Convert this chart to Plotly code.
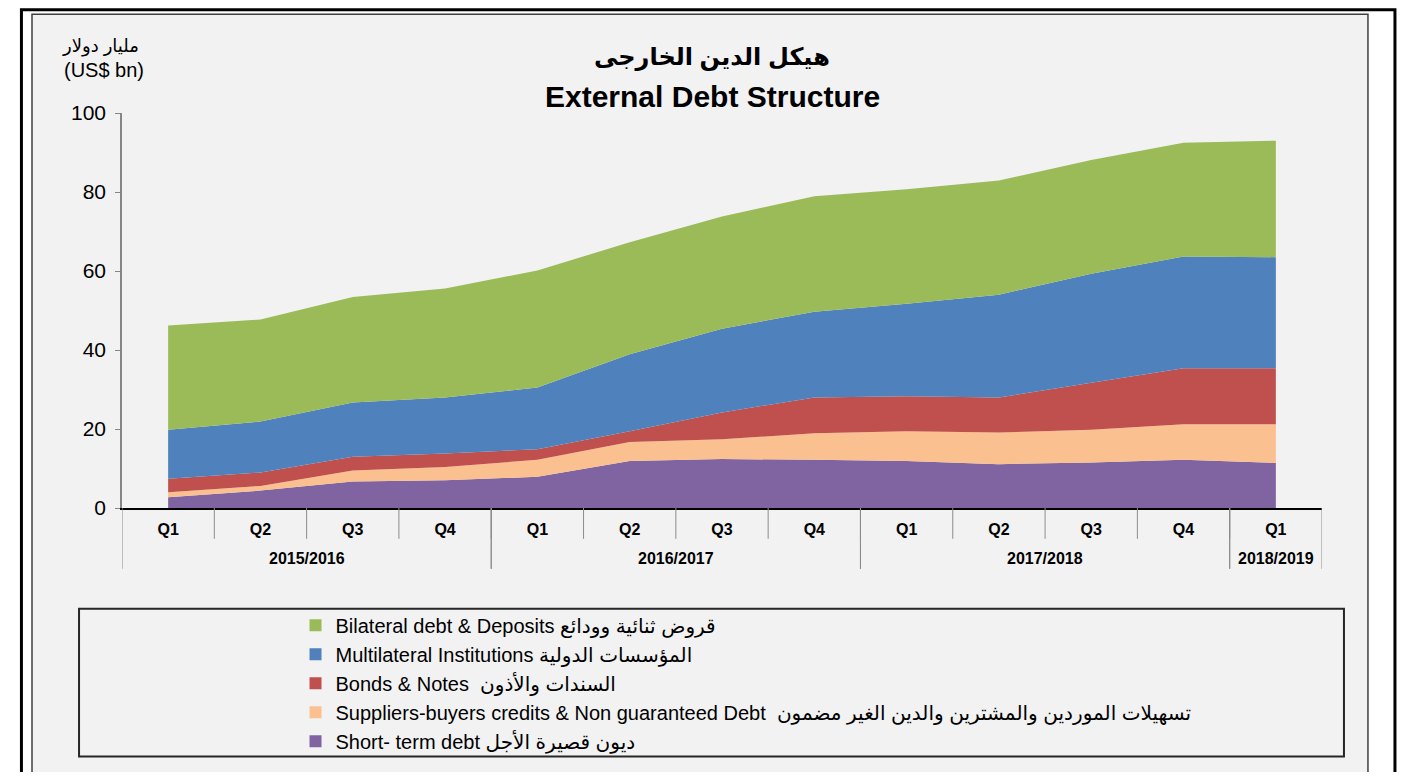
import plotly.graph_objects as go

# Fiscal years / quarters
years = ['2015/2016'] * 4 + ['2016/2017'] * 4 + ['2017/2018'] * 4 + ['2018/2019']
quarters = ['Q1', 'Q2', 'Q3', 'Q4'] * 3 + ['Q1']

# US$ bn
short_term = [2.7, 4.4, 6.7, 7.0, 7.9, 11.9, 12.4, 12.2, 11.9, 11.1, 11.5, 12.2, 11.4]
suppliers = [1.3, 1.2, 2.8, 3.4, 4.3, 4.8, 5.0, 6.7, 7.5, 8.0, 8.3, 9.0, 9.8]
bonds = [3.4, 3.4, 3.5, 3.4, 2.7, 2.7, 6.8, 9.1, 8.9, 8.9, 11.9, 14.2, 14.2]
multilateral = [12.4, 12.9, 13.7, 14.2, 15.6, 19.5, 21.2, 21.7, 23.4, 26.0, 27.6, 28.3, 28.1]
bilateral = [26.4, 25.8, 26.7, 27.6, 29.6, 28.4, 28.4, 29.2, 29.0, 28.9, 28.8, 28.8, 29.5]

series_names = [
    'Short- term debt ديون قصيرة الأجل',
    'Suppliers-buyers credits & Non guaranteed Debt  تسهيلات الموردين والمشترين والدين الغير مضمون',
    'Bonds & Notes  السندات والأذون',
    'Multilateral Institutions المؤسسات الدولية',
    'Bilateral debt & Deposits قروض ثنائية وودائع',
]
series_values = [short_term, suppliers, bonds, multilateral, bilateral]
colors = ['#8064A2', '#FAC090', '#C0504D', '#4F81BD', '#9BBB59']

FONT = 'Liberation Sans, Arial, DejaVu Sans, sans-serif'

n = len(quarters)
x_idx = list(range(n))

fig = go.Figure()

# stacked areas, bottom to top
for name, vals, color in zip(series_names, series_values, colors):
    fig.add_trace(go.Scatter(
        x=x_idx,
        y=vals,
        mode='none',
        stackgroup='one',
        fillcolor=color,
        name=name,
        showlegend=False,
        hoverinfo='skip'
    ))

# legend entries with square swatches, top series first
for name, color in zip(series_names[::-1], colors[::-1]):
    fig.add_trace(go.Scatter(
        x=x_idx,
        y=[None] * n,
        mode='markers',
        marker=dict(symbol='square', size=12, color=color),
        name=name,
        legendgroup=name
    ))

shapes = [
    # outer black frame
    dict(type='rect', xref='paper', yref='paper', x0=-0.0838, x1=1.0608, y0=-0.72, y1=1.2614,
         line=dict(color='black', width=3), fillcolor='white', layer='below'),
    # grey chart area
    dict(type='rect', xref='paper', yref='paper', x0=-0.075, x1=1.0383, y0=-0.71, y1=1.25,
         line=dict(color='#404040', width=1.5), fillcolor='#f2f2f2', layer='below'),
    # legend box
    dict(type='rect', xref='paper', yref='paper', x0=-0.0358, x1=1.0183, y0=-0.629, y1=-0.255,
         line=dict(color='#262626', width=2), fillcolor='rgba(0,0,0,0)', layer='below'),
]

# quarter separators below the axis
for k in range(n - 1):
    shapes.append(dict(type='line', xref='x', yref='paper', x0=k + 0.5, x1=k + 0.5,
                       y0=0, y1=-0.078, line=dict(color='#8c8c8c', width=1)))

# fiscal-year groups: long dividers and centred labels
annotations = []
groups = []
for i, yr in enumerate(years):
    if not groups or groups[-1][0] != yr:
        groups.append([yr, i, i])
    else:
        groups[-1][2] = i
for yr, first, last in groups:
    for edge in (first - 0.5, last + 0.5):
        shapes.append(dict(type='line', xref='x', yref='paper', x0=edge, x1=edge,
                           y0=0, y1=-0.154, line=dict(color='#8c8c8c', width=1)))
    annotations.append(dict(text='<b>%s</b>' % yr, xref='x', yref='paper',
                            x=(first + last) / 2, y=-0.1286, xanchor='center', yanchor='middle',
                            showarrow=False, font=dict(size=16)))

annotations += [
    dict(text='<b>هيكل الدين الخارجى</b>', xref='paper', yref='paper', x=0.4917, y=1.141,
         xanchor='center', yanchor='middle', showarrow=False, font=dict(size=24)),
    dict(text='<b>External Debt Structure</b>', xref='paper', yref='paper', x=0.4917, y=1.043,
         xanchor='center', yanchor='middle', showarrow=False, font=dict(size=30)),
    dict(text='مليار دولار', xref='paper', yref='paper', x=0.016, y=1.168,
         xanchor='right', yanchor='middle', showarrow=False, font=dict(size=18)),
    dict(text='(US$ bn)', xref='paper', yref='paper', x=0.02, y=1.109,
         xanchor='right', yanchor='middle', showarrow=False, font=dict(size=20)),
]

# page body has an 8px margin: size the figure so it fits the window
fig.update_layout(
    width=1389,
    height=764,
    paper_bgcolor='white',
    plot_bgcolor='rgba(0,0,0,0)',
    margin=dict(l=114, r=75, t=105, b=263),
    font=dict(family=FONT, color='black'),
    shapes=shapes,
    annotations=annotations,
    showlegend=True,
    legend=dict(
        x=0.1446, y=-0.2445, xanchor='left', yanchor='top',
        bgcolor='rgba(0,0,0,0)',
        font=dict(size=20, family=FONT),
        tracegroupgap=7,
        traceorder='normal'
    ),
    hovermode=False
)

fig.update_xaxes(
    range=[-0.5, n - 0.5],
    tickmode='array',
    tickvals=x_idx,
    ticktext=['<b>%s</b>' % q for q in quarters],
    showline=True,
    linecolor='black',
    linewidth=1.5,
    ticks='outside',
    ticklen=6,
    tickcolor='rgba(0,0,0,0)',
    showgrid=False,
    zeroline=False,
    tickfont=dict(size=16, family=FONT, color='black')
)

fig.update_yaxes(
    range=[0, 100],
    dtick=20,
    showline=True,
    linecolor='#868686',
    linewidth=1.5,
    ticks='outside',
    ticklen=5,
    tickcolor='#868686',
    showgrid=False,
    zeroline=False,
    ticklabelstandoff=5,
    tickfont=dict(size=21, family=FONT, color='black')
)

fig.write_html('out.html')
